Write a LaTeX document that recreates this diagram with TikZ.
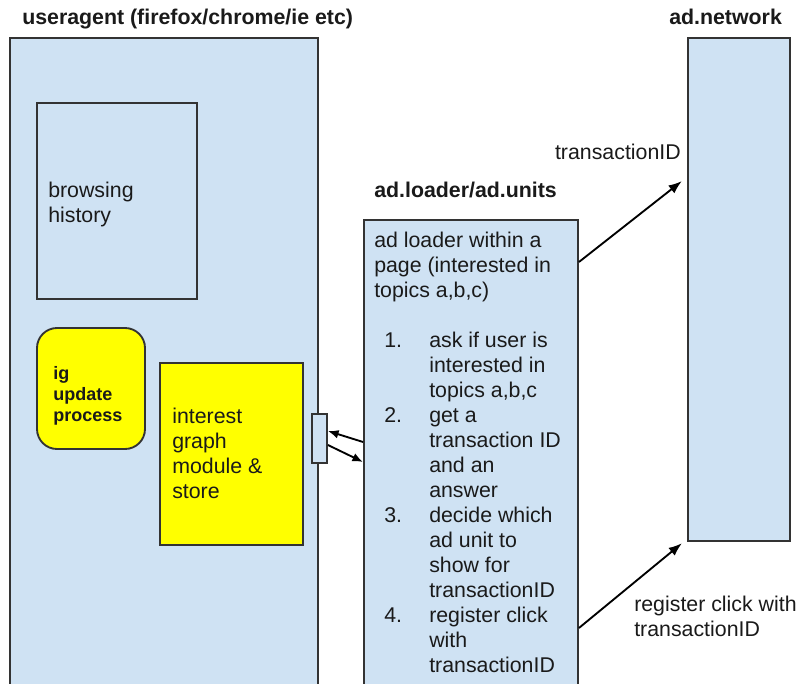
\documentclass[tikz,border=0pt]{standalone}
\usepackage{fontspec}
\setmainfont{Liberation Sans}
\usetikzlibrary{arrows.meta,fit}
\definecolor{lb}{HTML}{CFE2F3}
\definecolor{ln}{HTML}{333333}
\definecolor{yl}{HTML}{FFFF00}
\definecolor{tx}{HTML}{1A1A1A}
\begin{document}
\begin{tikzpicture}[x=0.75pt,y=-0.75pt,
  box/.style={draw=ln,line width=1.4pt,fill=lb,inner sep=0pt},
  ybox/.style={box,fill=yl},
  txt/.style={anchor=base west,inner sep=0pt,text=tx,font=\fontsize{16}{18.75}\selectfont},
  ttl/.style={anchor=base west,inner sep=0pt,text=tx,font=\fontsize{16}{18.75}\selectfont\bfseries},
  arr/.style={draw=black,line width=1.4pt,-{Latex[length=10pt,width=7.5pt]}},
  sarr/.style={draw=black,line width=1.4pt,-{Latex[length=8pt,width=6.5pt]}}]
\useasboundingbox (0,0) rectangle (797,683);
\fill[white] (0,0) rectangle (797,683);
\clip (0,0) rectangle (797,683);

% boxes
\node[box,fit={(10,38)(318,700)}] (ua) {};
\node[box,fit={(37,103)(197,299)}] (bh) {};
\node[ybox,rounded corners=15pt,fit={(37,328)(145,449)}] (ig) {};
\node[ybox,fit={(160,363)(303,545)}] (igm) {};
\node[box,fit={(312,414)(327,463)}] (port) {};
\node[box,fit={(364,220)(578,700)}] (al) {};
\node[box,fit={(688,38)(790,541)}] (an) {};

% titles
\node[ttl] (t1) at (22,24) {useragent (firefox/chrome/ie etc)};
\node[ttl] (t2) at (669,24) {ad.network};
\node[ttl] (t3) at (374,197) {ad.loader/ad.units};

% box texts
\node[txt] (bht) at (48,197.5) {\parbox[t]{150pt}{browsing\\history}};
\node[anchor=base west,inner sep=0pt,text=tx,font=\fontsize{13.5}{15.75}\selectfont\bfseries] (igt) at (53,379) {\parbox[t]{80pt}{ig\\update\\process}};
\node[txt] (igmt) at (172,423) {\parbox[t]{120pt}{interest\\graph\\module \&\\store}};
\node[txt] (alt) at (374,247.5) {\parbox[t]{200pt}{ad loader within a\\page (interested in\\topics a,b,c)}};

\node[txt] (n1) at (384,347.5) {1.};
\node[txt] (i1) at (429,347.5) {\parbox[t]{150pt}{ask if user is\\interested in\\topics a,b,c}};
\node[txt] (n2) at (384,422.5) {2.};
\node[txt] (i2) at (429,422.5) {\parbox[t]{150pt}{get a\\transaction ID\\and an\\answer}};
\node[txt] (n3) at (384,522.5) {3.};
\node[txt] (i3) at (429,522.5) {\parbox[t]{150pt}{decide which\\ad unit to\\show for\\transactionID}};
\node[txt] (n4) at (384,622.5) {4.};
\node[txt] (i4) at (429,622.5) {\parbox[t]{150pt}{register click\\with\\transactionID}};

% edge labels
\node[txt,anchor=base east] (l1) at (681,159) {transactionID};
\node[txt] (l2) at (634,611) {\parbox[t]{200pt}{register click with\\transactionID}};

% connectors
\draw[sarr] (al.west |- 0,442) -- (port.east |- 0,431);
\draw[sarr] (port.east |- 0,445) -- (al.west |- 0,462);
\draw[arr,shorten >=5pt] (al.east |- 0,262) -- (an.west |- 0,177);
\draw[arr,shorten >=5pt] (al.east |- 0,628) -- (an.west |- 0,539);
\end{tikzpicture}
\end{document}
